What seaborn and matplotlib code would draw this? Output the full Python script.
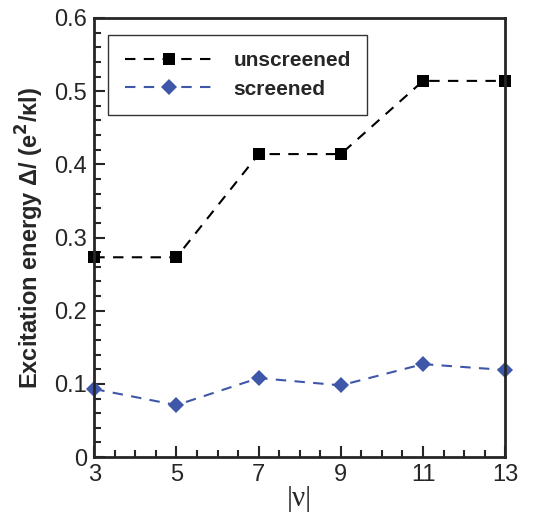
import matplotlib
matplotlib.use("Agg")
import matplotlib.pyplot as plt
import seaborn as sns
import pandas as pd
from matplotlib.ticker import MultipleLocator

# values
nu = [3, 5, 7, 9, 11, 13]
unscreened = [0.273, 0.273, 0.414, 0.414, 0.514, 0.514]
screened = [0.093, 0.071, 0.108, 0.098, 0.127, 0.119]
series = ["unscreened", "screened"]

df = pd.concat([
    pd.DataFrame({"nu": nu, "gap": unscreened, "kind": series[0]}),
    pd.DataFrame({"nu": nu, "gap": screened, "kind": series[1]}),
])

sns.set_style("ticks")
plt.rcParams["font.family"] = ["Liberation Sans", "DejaVu Sans"]

fig, ax = plt.subplots(figsize=(5.45, 5.13), dpi=100)
fig.subplots_adjust(left=0.173, right=0.927, top=0.965, bottom=0.109)

sns.lineplot(data=df, x="nu", y="gap", hue="kind", style="kind",
             hue_order=series, style_order=series,
             palette={"unscreened": "black", "screened": "#3f57a8"},
             markers={"unscreened": "s", "screened": "D"},
             dashes={"unscreened": (5, 4), "screened": (5, 4)},
             markersize=8, markeredgewidth=0, linewidth=1.5,
             ax=ax, clip_on=False)

ax.set_xlim(3, 13)
ax.set_ylim(0, 0.6)
ax.set_xticks(nu)
ax.set_yticks([0, 0.1, 0.2, 0.3, 0.4, 0.5, 0.6])
ax.set_yticklabels(["0", "0.1", "0.2", "0.3", "0.4", "0.5", "0.6"])
ax.xaxis.set_minor_locator(MultipleLocator(0.5))
ax.yaxis.set_minor_locator(MultipleLocator(0.02))
ax.tick_params(which="both", direction="in", top=False, right=False,
               labelsize=17, width=1.5)
ax.tick_params(which="major", length=8, pad=5)
ax.tick_params(which="minor", length=5)
for s in ax.spines.values():
    s.set_linewidth(2)

ax.set_xlabel("|ν|", fontsize=21, family=["Liberation Serif", "DejaVu Serif"], labelpad=0)
ax.set_ylabel("Excitation energy Δ/ (e$^{\\mathbf{2}}$/κl)", fontsize=17,
              fontweight="bold", labelpad=6)

leg = ax.legend(loc="upper left", bbox_to_anchor=(0.034, 0.962), fontsize=15,
                frameon=True, fancybox=False, handlelength=4.2,
                borderpad=0.8, labelspacing=0.45, handletextpad=1.0,
                borderaxespad=0)
leg.get_frame().set_edgecolor("black")
leg.get_frame().set_linewidth(1)
for t in leg.get_texts():
    t.set_fontweight("bold")

fig.savefig("out.png", dpi=100)
